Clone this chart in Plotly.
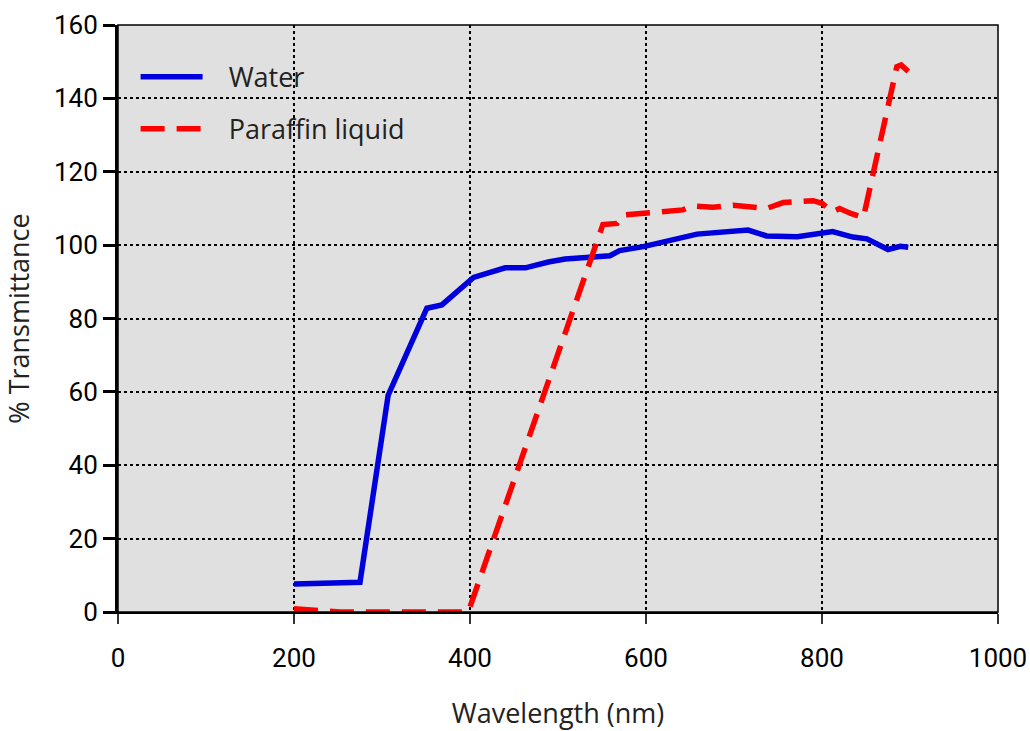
import plotly.graph_objects as go

# Water transmittance
water_wl = [200, 275, 307, 351, 368, 404, 440, 463, 489, 508, 559, 570, 597, 627, 658,
            716, 737, 772, 798, 812, 835, 851, 875, 889, 898]
water_t = [7.6, 8.1, 59.1, 82.8, 83.7, 91.2, 93.8, 93.8, 95.4, 96.2, 97.1, 98.5, 99.6, 101.2, 103.0,
           104.1, 102.5, 102.3, 103.4, 103.7, 102.2, 101.7, 98.8, 99.7, 99.4]

# Paraffin liquid transmittance
paraffin_wl = [200, 252, 398, 430, 523, 551, 567, 574, 608, 642, 653, 676, 699, 737, 756,
               778, 790, 800, 812, 820, 832, 847, 885, 890, 898]
paraffin_t = [0.9, 0.0, 0.0, 22.0, 85.5, 105.6, 105.9, 108.2, 108.9, 109.6, 110.7, 110.3, 110.9, 110.0, 111.6,
              112.1, 112.1, 111.4, 109.1, 110.0, 108.7, 107.5, 148.6, 149.1, 147.3]

x_ticks = [0, 200, 400, 600, 800, 1000]
y_ticks = [0, 20, 40, 60, 80, 100, 120, 140, 160]

NB = "\u00a0\u00a0\u00a0"

fig = go.Figure()
fig.add_trace(go.Scatter(x=water_wl, y=water_t, mode="lines", name=NB + "Water",
                         legendgroup="w",
                         line=dict(color="#0000dd", width=5.5)))
fig.add_trace(go.Scatter(x=paraffin_wl, y=paraffin_t, mode="lines", name=NB + "Paraffin liquid",
                         legendgroup="p",
                         line=dict(color="#ff0000", width=5.5, dash="24px,12px")))

tick_font = dict(family="Roboto", size=26, color="black")
title_font = dict(family="Open Sans", size=27, color="#222222")

fig.update_layout(
    width=1030, height=731,
    margin=dict(l=118, r=32, t=25, b=119),
    paper_bgcolor="white",
    plot_bgcolor="#e0e0e0",
    showlegend=True,
    legend=dict(x=0.02, y=0.953, xanchor="left", yanchor="top",
                bgcolor="rgba(0,0,0,0)", font=dict(family="Open Sans", size=27, color="#222222"),
                itemwidth=62, tracegroupgap=14),
    xaxis=dict(range=[0, 1000], tickvals=x_ticks, ticktext=[str(v) for v in x_ticks],
               automargin=False,
               showgrid=True, gridcolor="black", griddash="dot", gridwidth=1.8,
               zeroline=False, showline=True, linecolor="black", linewidth=2,
               ticks="outside", ticklen=10, tickwidth=1.5, tickcolor="#333333",
               ticklabelstandoff=12,
               tickfont=tick_font,
               title=dict(text="Wavelength (nm)", font=title_font, standoff=33)),
    yaxis=dict(range=[0, 160], tickvals=y_ticks,
               automargin=False,
               showgrid=True, gridcolor="black", griddash="dot", gridwidth=1.8,
               zeroline=False, showline=True, linecolor="black", linewidth=3,
               ticks="outside", ticklen=12, tickwidth=3, tickcolor="black",
               tickfont=tick_font,
               title=dict(text="% Transmittance", font=title_font, standoff=18)),
    shapes=[dict(type="rect", xref="paper", yref="paper", x0=0, x1=1, y0=0, y1=1,
                 line=dict(color="black", width=1.5), layer="above")],
)

fig.write_html("out.html")
